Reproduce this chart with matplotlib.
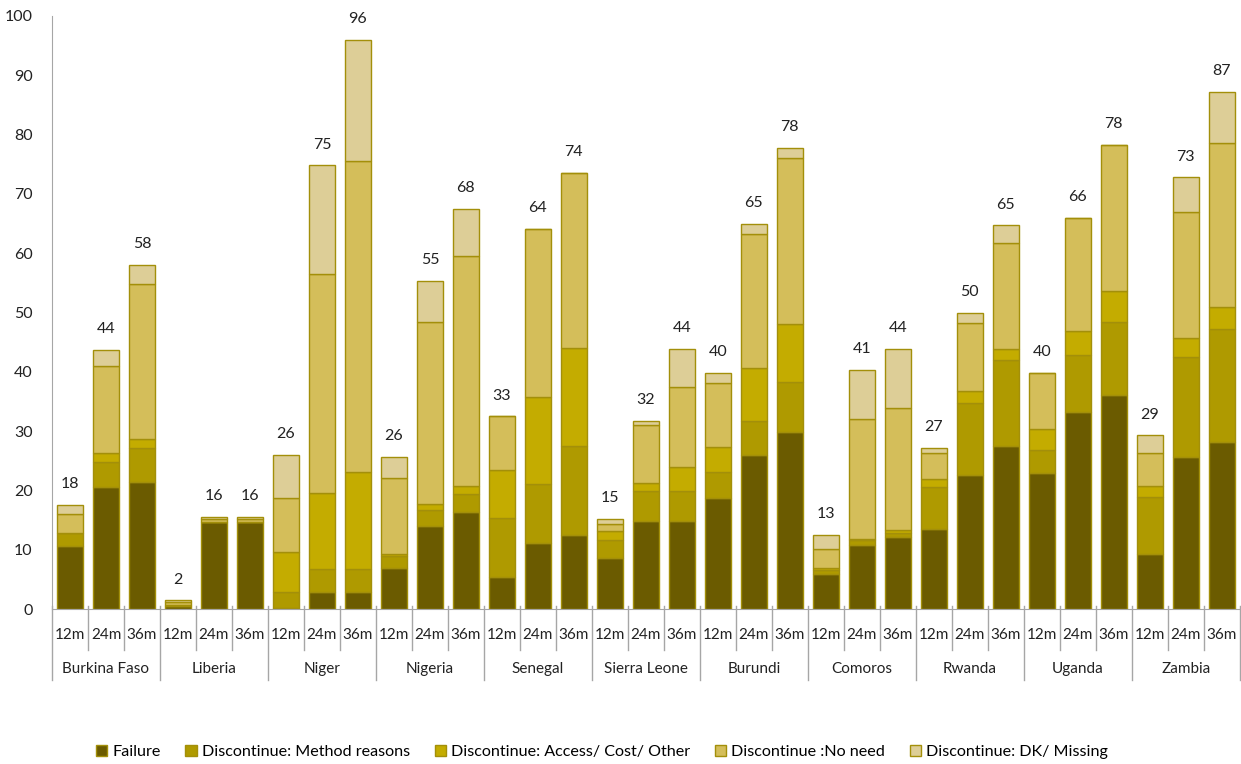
import matplotlib.pyplot as plt
import numpy as np

plt.rcParams['font.family'] = ['Lato', 'DejaVu Sans']

countries = ['Burkina Faso', 'Liberia', 'Niger', 'Nigeria', 'Senegal', 'Sierra Leone',
             'Burundi', 'Comoros', 'Rwanda', 'Uganda', 'Zambia']
months = ['12m', '24m', '36m']

failure = [10.7, 20.6, 21.4, 0.5, 14.7, 14.7, 0.2, 2.9, 2.9, 6.9, 14.0, 16.4,
           5.5, 11.2, 12.5, 8.7, 14.8, 14.8, 18.8, 26.0, 29.8, 6.0, 10.8, 12.1,
           13.5, 22.7, 27.6, 23.0, 33.2, 36.2, 9.3, 25.6, 28.2]
method = [2.1, 4.2, 5.7, 0.1, 0.0, 0.0, 2.7, 3.9, 3.9, 2.0, 2.8, 3.1,
          9.9, 9.9, 15.0, 3.0, 5.1, 5.1, 4.3, 5.7, 8.5, 0.6, 0.8, 0.8,
          7.1, 12.1, 14.4, 3.9, 9.6, 12.2, 9.6, 17.0, 19.0]
access = [0.0, 1.5, 1.6, 0.1, 0.0, 0.0, 6.7, 12.8, 16.4, 0.4, 0.9, 1.3,
          8.1, 14.6, 16.6, 1.5, 1.4, 4.1, 4.2, 8.9, 9.8, 0.4, 0.3, 0.4,
          1.3, 2.0, 1.9, 3.5, 4.1, 5.3, 1.8, 3.1, 3.8]
no_need = [3.2, 14.7, 26.1, 0.6, 0.6, 0.6, 9.1, 36.9, 52.4, 12.8, 30.7, 38.7,
           9.0, 28.4, 29.4, 1.2, 9.7, 13.4, 10.9, 22.7, 28.0, 3.1, 20.2, 20.7,
           4.5, 11.5, 17.8, 9.5, 19.1, 24.6, 5.7, 21.3, 27.6]
dk_missing = [1.6, 2.7, 3.2, 0.2, 0.3, 0.3, 7.3, 18.3, 20.3, 3.6, 6.9, 8.0,
              0.0, 0.0, 0.0, 0.8, 0.7, 6.5, 1.7, 1.6, 1.7, 2.4, 8.3, 9.9,
              0.8, 1.7, 3.0, 0.0, 0.0, 0.0, 2.9, 5.8, 8.6]
totals = [18, 44, 58, 2, 16, 16, 26, 75, 96, 26, 55, 68, 33, 64, 74, 15, 32, 44,
          40, 65, 78, 13, 41, 44, 27, 50, 65, 40, 66, 78, 29, 73, 87]

series = [failure, method, access, no_need, dk_missing]
names = ['Failure', 'Discontinue: Method reasons', 'Discontinue: Access/ Cost/ Other',
         'Discontinue :No need', 'Discontinue: DK/ Missing']
colors = ['#6B5B00', '#AF9A00', '#C4AC00', '#D4BE5A', '#DDCE97']
edge = '#A38F0A'
gray = '#A6A6A6'

fig = plt.figure(figsize=(12.41, 7.64), dpi=100)
ax = fig.add_axes([0.0419, 0.2025, 0.9571, 0.7766])

x = np.arange(len(failure))
bottom = np.zeros(len(x))
for vals, name, col in zip(series, names, colors):
    vals = np.array(vals)
    ax.bar(x, vals, 0.72, bottom=bottom, color=col, edgecolor=edge, linewidth=1, label=name)
    bottom += vals

for xi, top, t in zip(x, bottom, totals):
    ax.annotate(str(t), (xi, top), xytext=(0, 15), textcoords='offset points',
                ha='center', va='center', fontsize=11.5, color='#222222')

ax.set_xlim(-0.5, len(x) - 0.5)
ax.set_ylim(0, 100)
ax.set_yticks(range(0, 101, 10))
ax.tick_params(axis='y', length=0, pad=14, labelsize=11.5, labelcolor='#222222')
ax.set_xticks([])
for s in ['top', 'right']:
    ax.spines[s].set_visible(False)
ax.spines['left'].set_color(gray)
ax.spines['bottom'].set_color(gray)

# two-level category axis
trans = ax.get_xaxis_transform()
for i in range(len(x) + 1):
    low = -0.12 if i % 3 == 0 else -0.069
    ax.plot([i - 0.5, i - 0.5], [0.005, low], transform=trans, color=gray,
            linewidth=1, clip_on=False)
for i in x:
    ax.text(i, -0.044, months[i % 3], transform=trans, ha='center', va='center',
            fontsize=11, color='#222222')
for j, c in enumerate(countries):
    ax.text(3 * j + 1, -0.1, c, transform=trans, ha='center', va='center',
            fontsize=11, color='#222222')

fig.legend(loc='center', bbox_to_anchor=(0.485, 0.0157), ncol=5, frameon=False,
           fontsize=11.6, handlelength=0.7, handleheight=0.7, handletextpad=0.3,
           columnspacing=1.55, borderpad=0)

fig.savefig('out.png', dpi=100)
